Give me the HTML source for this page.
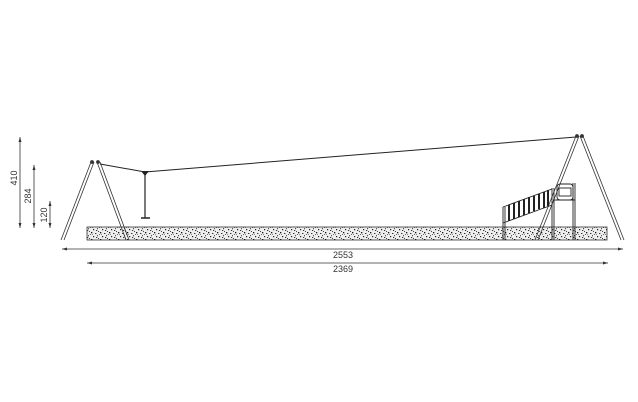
<!DOCTYPE html>
<html><head><meta charset="utf-8"><style>
html,body{margin:0;padding:0;background:#fff;}
svg{display:block;}
text{font-family:"Liberation Sans",sans-serif;font-size:9px;fill:#333;}
</style></head><body>
<svg width="638" height="402" viewBox="0 0 638 402" xmlns="http://www.w3.org/2000/svg">
<defs>
<pattern id="dots" width="9" height="7" patternUnits="userSpaceOnUse">
<rect width="9" height="7" fill="#eee"/>
<rect x="1" y="1" width="1.3" height="1.3" fill="#111"/>
<rect x="5" y="2" width="1.4" height="1" fill="#333"/>
<rect x="3" y="5" width="1.2" height="1.2" fill="#222"/>
<rect x="7" y="4" width="1" height="1.3" fill="#555"/>
<rect x="0" y="3" width="1" height="1" fill="#666"/>
<rect x="6" y="6" width="1.2" height="1" fill="#333"/>
<rect x="2" y="3" width="1" height="1" fill="#888"/>
<rect x="8" y="0" width="1" height="1" fill="#444"/>
</pattern>
</defs>
<rect x="87" y="227" width="520" height="13" fill="url(#dots)" stroke="#333" stroke-width="0.8"/>
<g stroke="#333" stroke-width="0.8" fill="none">
<line x1="91" y1="162" x2="61" y2="240"/><line x1="94" y1="162" x2="64" y2="240"/>
<line x1="97" y1="162" x2="126" y2="240"/><line x1="100" y1="162" x2="129" y2="240"/>
<circle cx="92" cy="162" r="1.5" fill="#333"/><circle cx="98" cy="162" r="1.5" fill="#333"/>
<line x1="576" y1="136" x2="535" y2="240"/><line x1="579" y1="136" x2="538" y2="240"/>
<line x1="580" y1="136" x2="621" y2="240"/><line x1="583" y1="136" x2="624" y2="240"/>
<circle cx="577" cy="136" r="1.5" fill="#333"/><circle cx="582" cy="136" r="1.5" fill="#333"/>
</g>
<polyline points="100,164 145,172 576,137" fill="none" stroke="#222" stroke-width="1"/>
<path d="M141,171 L149,171 L145,176 Z" fill="#222"/>
<line x1="145" y1="172" x2="145" y2="218" stroke="#222" stroke-width="1.2"/>
<line x1="141" y1="218" x2="150" y2="218" stroke="#222" stroke-width="1.5"/>
<g stroke="#222" stroke-width="0.9" fill="none">
<line x1="503" y1="207" x2="503" y2="240"/><line x1="505" y1="207" x2="505" y2="240"/>
<line x1="552" y1="188" x2="552" y2="240"/><line x1="554" y1="188" x2="554" y2="240"/>
<line x1="573" y1="183" x2="573" y2="240"/><line x1="575" y1="183" x2="575" y2="240"/>
<line x1="503" y1="207" x2="552" y2="189"/>
<line x1="503" y1="223" x2="552" y2="205"/>
<rect x="557" y="184" width="16" height="16" rx="3"/>
<rect x="559" y="188" width="12" height="8"/>
<line x1="553" y1="200" x2="575" y2="200"/>
</g>
<g stroke="#222" stroke-width="2">
<line x1="509" y1="205" x2="509" y2="221"/><line x1="514" y1="203" x2="514" y2="219"/>
<line x1="519" y1="201" x2="519" y2="217"/><line x1="524" y1="199" x2="524" y2="215"/>
<line x1="529" y1="197" x2="529" y2="213"/><line x1="534" y1="196" x2="534" y2="211"/>
<line x1="539" y1="194" x2="539" y2="209"/><line x1="544" y1="192" x2="544" y2="208"/>
<line x1="548" y1="190" x2="548" y2="206"/>
</g>
<g stroke="#333" stroke-width="0.8">
<line x1="62" y1="249" x2="623" y2="249"/>
<line x1="87" y1="263" x2="608" y2="263"/>
<line x1="20" y1="137" x2="20" y2="228"/>
<line x1="34" y1="165" x2="34" y2="228"/>
<line x1="50" y1="201" x2="50" y2="228"/>
</g>
<g fill="#333">
<path d="M62,249 l5,-1.5 v3z"/><path d="M623,249 l-5,-1.5 v3z"/>
<path d="M87,263 l5,-1.5 v3z"/><path d="M608,263 l-5,-1.5 v3z"/>
<path d="M20,137 l-1.5,5 h3z"/><path d="M20,228 l-1.5,-5 h3z"/>
<path d="M34,165 l-1.5,5 h3z"/><path d="M34,228 l-1.5,-5 h3z"/>
<path d="M50,201 l-1.5,5 h3z"/><path d="M50,228 l-1.5,-5 h3z"/>
</g>
<text x="343" y="258" text-anchor="middle">2553</text>
<text x="343" y="272" text-anchor="middle">2369</text>
<text transform="translate(17,178) rotate(-90)" text-anchor="middle">410</text>
<text transform="translate(31,196) rotate(-90)" text-anchor="middle">284</text>
<text transform="translate(47,215) rotate(-90)" text-anchor="middle">120</text>
</svg>
</body></html>
